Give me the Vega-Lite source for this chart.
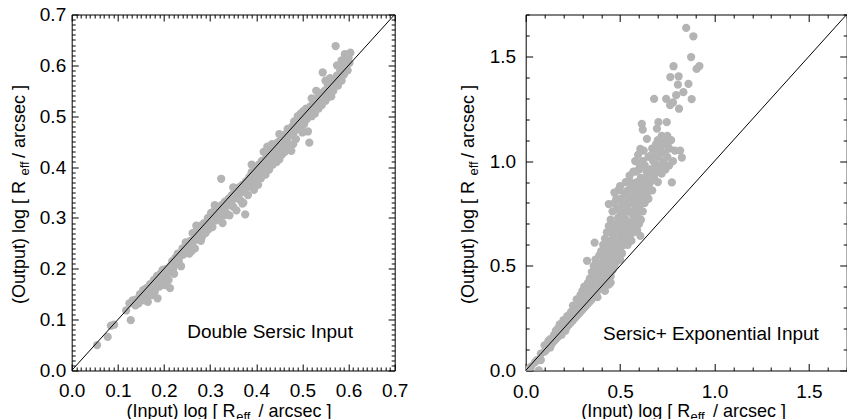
{
"$schema":"https://vega.github.io/schema/vega-lite/v6.json",
"padding":{"left":9.7,"top":4.5,"right":-1,"bottom":-4},
"spacing":50,
"config":{"view":{"stroke":"#000000","strokeWidth":1},"font":"Liberation Sans","axis":{"grid":false,"domain":false,"labelFlush":false,"labelFont":"Liberation Sans","titleFont":"Liberation Sans","labelColor":"#000000","titleColor":"#000000","tickColor":"#000000","titleFontWeight":"normal","tickWidth":1}},
"hconcat":[
{"width":323,"height":356,
"layer":[
{"data":{"values":[
{"x":0.055,"y":0.05},{"x":0.078,"y":0.066},{"x":0.085,"y":0.088},{"x":0.092,"y":0.09},{"x":0.118,"y":0.118},{"x":0.125,"y":0.132},{"x":0.128,"y":0.099},{"x":0.132,"y":0.138},{"x":0.138,"y":0.128},{"x":0.14,"y":0.14},{"x":0.145,"y":0.132},{"x":0.148,"y":0.15},{"x":0.152,"y":0.142},{"x":0.155,"y":0.158},{"x":0.158,"y":0.138},{"x":0.16,"y":0.148},{"x":0.162,"y":0.162},{"x":0.165,"y":0.135},{"x":0.168,"y":0.155},{"x":0.17,"y":0.17},{"x":0.172,"y":0.148},{"x":0.175,"y":0.165},{"x":0.178,"y":0.178},{"x":0.18,"y":0.155},{"x":0.182,"y":0.168},{"x":0.185,"y":0.186},{"x":0.186,"y":0.142},{"x":0.188,"y":0.175},{"x":0.19,"y":0.165},{"x":0.192,"y":0.19},{"x":0.195,"y":0.18},{"x":0.197,"y":0.198},{"x":0.2,"y":0.185},{"x":0.202,"y":0.168},{"x":0.205,"y":0.2},{"x":0.207,"y":0.19},{"x":0.21,"y":0.178},{"x":0.213,"y":0.162},{"x":0.214,"y":0.205},{"x":0.216,"y":0.196},{"x":0.218,"y":0.215},{"x":0.22,"y":0.2},{"x":0.222,"y":0.19},{"x":0.225,"y":0.222},{"x":0.228,"y":0.21},{"x":0.23,"y":0.23},{"x":0.232,"y":0.215},{"x":0.235,"y":0.225},{"x":0.237,"y":0.205},{"x":0.24,"y":0.24},{"x":0.242,"y":0.228},{"x":0.245,"y":0.238},{"x":0.247,"y":0.252},{"x":0.25,"y":0.235},{"x":0.252,"y":0.245},{"x":0.255,"y":0.23},{"x":0.257,"y":0.255},{"x":0.26,"y":0.248},{"x":0.262,"y":0.27},{"x":0.265,"y":0.255},{"x":0.267,"y":0.24},{"x":0.27,"y":0.265},{"x":0.272,"y":0.28},{"x":0.275,"y":0.258},{"x":0.277,"y":0.27},{"x":0.28,"y":0.285},{"x":0.282,"y":0.262},{"x":0.285,"y":0.278},{"x":0.287,"y":0.29},{"x":0.29,"y":0.27},{"x":0.292,"y":0.285},{"x":0.295,"y":0.3},{"x":0.297,"y":0.278},{"x":0.3,"y":0.292},{"x":0.302,"y":0.31},{"x":0.305,"y":0.282},{"x":0.307,"y":0.3},{"x":0.31,"y":0.315},{"x":0.312,"y":0.295},{"x":0.315,"y":0.305},{"x":0.317,"y":0.32},{"x":0.32,"y":0.3},{"x":0.322,"y":0.312},{"x":0.324,"y":0.377},{"x":0.325,"y":0.325},{"x":0.327,"y":0.29},{"x":0.33,"y":0.318},{"x":0.332,"y":0.332},{"x":0.335,"y":0.31},{"x":0.337,"y":0.325},{"x":0.34,"y":0.338},{"x":0.342,"y":0.305},{"x":0.345,"y":0.33},{"x":0.347,"y":0.345},{"x":0.35,"y":0.322},{"x":0.352,"y":0.338},{"x":0.355,"y":0.355},{"x":0.357,"y":0.315},{"x":0.36,"y":0.345},{"x":0.362,"y":0.36},{"x":0.365,"y":0.335},{"x":0.367,"y":0.35},{"x":0.37,"y":0.365},{"x":0.372,"y":0.33},{"x":0.375,"y":0.355},{"x":0.376,"y":0.307},{"x":0.378,"y":0.372},{"x":0.38,"y":0.36},{"x":0.382,"y":0.345},{"x":0.385,"y":0.38},{"x":0.387,"y":0.365},{"x":0.39,"y":0.39},{"x":0.392,"y":0.37},{"x":0.395,"y":0.355},{"x":0.397,"y":0.392},{"x":0.4,"y":0.38},{"x":0.402,"y":0.395},{"x":0.404,"y":0.365},{"x":0.406,"y":0.405},{"x":0.408,"y":0.39},{"x":0.41,"y":0.378},{"x":0.412,"y":0.412},{"x":0.414,"y":0.398},{"x":0.416,"y":0.43},{"x":0.418,"y":0.405},{"x":0.42,"y":0.385},{"x":0.422,"y":0.42},{"x":0.424,"y":0.44},{"x":0.426,"y":0.41},{"x":0.428,"y":0.395},{"x":0.43,"y":0.43},{"x":0.432,"y":0.418},{"x":0.434,"y":0.445},{"x":0.436,"y":0.405},{"x":0.438,"y":0.432},{"x":0.44,"y":0.42},{"x":0.442,"y":0.44},{"x":0.444,"y":0.41},{"x":0.446,"y":0.448},{"x":0.448,"y":0.43},{"x":0.45,"y":0.415},{"x":0.452,"y":0.452},{"x":0.454,"y":0.44},{"x":0.456,"y":0.425},{"x":0.458,"y":0.46},{"x":0.46,"y":0.445},{"x":0.462,"y":0.43},{"x":0.464,"y":0.465},{"x":0.466,"y":0.45},{"x":0.468,"y":0.475},{"x":0.47,"y":0.46},{"x":0.472,"y":0.44},{"x":0.474,"y":0.47},{"x":0.476,"y":0.432},{"x":0.478,"y":0.48},{"x":0.48,"y":0.465},{"x":0.482,"y":0.49},{"x":0.484,"y":0.472},{"x":0.486,"y":0.455},{"x":0.488,"y":0.485},{"x":0.49,"y":0.5},{"x":0.492,"y":0.475},{"x":0.494,"y":0.49},{"x":0.496,"y":0.505},{"x":0.498,"y":0.48},{"x":0.5,"y":0.495},{"x":0.502,"y":0.51},{"x":0.504,"y":0.485},{"x":0.506,"y":0.5},{"x":0.508,"y":0.515},{"x":0.51,"y":0.495},{"x":0.512,"y":0.47},{"x":0.515,"y":0.448},{"x":0.516,"y":0.505},{"x":0.518,"y":0.52},{"x":0.52,"y":0.5},{"x":0.522,"y":0.515},{"x":0.525,"y":0.53},{"x":0.527,"y":0.505},{"x":0.53,"y":0.52},{"x":0.532,"y":0.535},{"x":0.535,"y":0.515},{"x":0.537,"y":0.528},{"x":0.54,"y":0.545},{"x":0.542,"y":0.522},{"x":0.544,"y":0.586},{"x":0.545,"y":0.535},{"x":0.548,"y":0.55},{"x":0.55,"y":0.53},{"x":0.552,"y":0.545},{"x":0.555,"y":0.56},{"x":0.557,"y":0.538},{"x":0.56,"y":0.552},{"x":0.5625,"y":0.539},{"x":0.565,"y":0.57},{"x":0.567,"y":0.55},{"x":0.57,"y":0.565},{"x":0.572,"y":0.638},{"x":0.575,"y":0.58},{"x":0.577,"y":0.56},{"x":0.58,"y":0.575},{"x":0.582,"y":0.59},{"x":0.585,"y":0.57},{"x":0.587,"y":0.595},{"x":0.59,"y":0.582},{"x":0.592,"y":0.622},{"x":0.595,"y":0.6},{"x":0.598,"y":0.59},{"x":0.6,"y":0.615},{"x":0.602,"y":0.605},{"x":0.604,"y":0.625},{"x":0.585,"y":0.61},{"x":0.575,"y":0.6},{"x":0.55,"y":0.57},{"x":0.53,"y":0.55},{"x":0.5,"y":0.468},{"x":0.36,"y":0.34},{"x":0.37,"y":0.328},{"x":0.44,"y":0.425},{"x":0.46,"y":0.436},{"x":0.48,"y":0.445},{"x":0.42,"y":0.4},{"x":0.4,"y":0.372},{"x":0.33,"y":0.305},{"x":0.28,"y":0.255},{"x":0.26,"y":0.235},{"x":0.35,"y":0.36},{"x":0.45,"y":0.465},{"x":0.39,"y":0.405},{"x":0.31,"y":0.325},{"x":0.27,"y":0.285},{"x":0.52,"y":0.535},{"x":0.56,"y":0.575}
]},
"mark":{"type":"circle","size":68,"color":"#b4b4b4","opacity":1,"clip":true},
"encoding":{
"x":{"field":"x","type":"quantitative","scale":{"domain":[0,0.7],"nice":false,"zero":false},
"axis":{"orient":"bottom","values":[0,0.1,0.2,0.3,0.4,0.5,0.6,0.7],"format":".1f","ticks":false,"labelFontSize":19,"labelPadding":11,"title":"(Input) log [ R\u2002\u2002 / arcsec ]","titleFontSize":18,"titleAlign":"left","titleBaseline":"alphabetic","titleX":54.3,"titleY":46}},
"y":{"field":"y","type":"quantitative","scale":{"domain":[0,0.7],"nice":false,"zero":false},
"axis":{"orient":"left","values":[0,0.1,0.2,0.3,0.4,0.5,0.6,0.7],"format":".1f","ticks":false,"labelFontSize":19,"labelPadding":6,"title":"(Output) log [ R\u2002\u2002 / arcsec ]","titleFontSize":18,"titleAngle":270,"titleAlign":"left","titleBaseline":"alphabetic","titleX":-46.7,"titleY":289}}
}},
{"data":{"values":[{"x":0,"y":0},{"x":0.7,"y":0.7}]},
"mark":{"type":"line","color":"#000000","strokeWidth":1,"clip":true},
"encoding":{
"x":{"field":"x","type":"quantitative","scale":{"domain":[0,0.7],"nice":false,"zero":false},
"axis":{"orient":"bottom","values":[0,0.01,0.02,0.03,0.04,0.05,0.06,0.07,0.08,0.09,0.1,0.11,0.12,0.13,0.14,0.15,0.16,0.17,0.18,0.19,0.2,0.21,0.22,0.23,0.24,0.25,0.26,0.27,0.28,0.29,0.3,0.31,0.32,0.33,0.34,0.35,0.36,0.37,0.38,0.39,0.4,0.41,0.42,0.43,0.44,0.45,0.46,0.47,0.48,0.49,0.5,0.51,0.52,0.53,0.54,0.55,0.56,0.57,0.58,0.59,0.6,0.61,0.62,0.63,0.64,0.65,0.66,0.67,0.68,0.69,0.7],"labels":false,"tickSize":{"condition":{"test":"abs(datum.value*10-round(datum.value*10))<0.001","value":-6.5},"value":-3.5},"title":"eff","titleFontSize":13,"titleAlign":"left","titleBaseline":"alphabetic","titleX":164,"titleY":50}},
"y":{"field":"y","type":"quantitative","scale":{"domain":[0,0.7],"nice":false,"zero":false},
"axis":{"orient":"left","values":[0,0.01,0.02,0.03,0.04,0.05,0.06,0.07,0.08,0.09,0.1,0.11,0.12,0.13,0.14,0.15,0.16,0.17,0.18,0.19,0.2,0.21,0.22,0.23,0.24,0.25,0.26,0.27,0.28,0.29,0.3,0.31,0.32,0.33,0.34,0.35,0.36,0.37,0.38,0.39,0.4,0.41,0.42,0.43,0.44,0.45,0.46,0.47,0.48,0.49,0.5,0.51,0.52,0.53,0.54,0.55,0.56,0.57,0.58,0.59,0.6,0.61,0.62,0.63,0.64,0.65,0.66,0.67,0.68,0.69,0.7],"labels":false,"tickSize":{"condition":{"test":"abs(datum.value*10-round(datum.value*10))<0.001","value":-6.5},"value":-3.5},"title":"eff","titleFontSize":13,"titleAngle":270,"titleAlign":"left","titleBaseline":"alphabetic","titleX":-43.2,"titleY":160.5}}
}},
{"data":{"values":[{"x":0.43,"y":0.063,"label":"Double Sersic Input"}]},
"mark":{"type":"text","fontSize":19,"font":"Liberation Sans","align":"center","baseline":"alphabetic","color":"#000000"},
"encoding":{
"x":{"field":"x","type":"quantitative","scale":{"domain":[0,0.7],"nice":false,"zero":false},
"axis":{"orient":"top","values":[0,0.01,0.02,0.03,0.04,0.05,0.06,0.07,0.08,0.09,0.1,0.11,0.12,0.13,0.14,0.15,0.16,0.17,0.18,0.19,0.2,0.21,0.22,0.23,0.24,0.25,0.26,0.27,0.28,0.29,0.3,0.31,0.32,0.33,0.34,0.35,0.36,0.37,0.38,0.39,0.4,0.41,0.42,0.43,0.44,0.45,0.46,0.47,0.48,0.49,0.5,0.51,0.52,0.53,0.54,0.55,0.56,0.57,0.58,0.59,0.6,0.61,0.62,0.63,0.64,0.65,0.66,0.67,0.68,0.69,0.7],"labels":false,"title":null,"tickSize":{"condition":{"test":"abs(datum.value*10-round(datum.value*10))<0.001","value":-6.5},"value":-3.5}}},
"y":{"field":"y","type":"quantitative","scale":{"domain":[0,0.7],"nice":false,"zero":false},
"axis":{"orient":"right","values":[0,0.01,0.02,0.03,0.04,0.05,0.06,0.07,0.08,0.09,0.1,0.11,0.12,0.13,0.14,0.15,0.16,0.17,0.18,0.19,0.2,0.21,0.22,0.23,0.24,0.25,0.26,0.27,0.28,0.29,0.3,0.31,0.32,0.33,0.34,0.35,0.36,0.37,0.38,0.39,0.4,0.41,0.42,0.43,0.44,0.45,0.46,0.47,0.48,0.49,0.5,0.51,0.52,0.53,0.54,0.55,0.56,0.57,0.58,0.59,0.6,0.61,0.62,0.63,0.64,0.65,0.66,0.67,0.68,0.69,0.7],"labels":false,"title":null,"tickSize":{"condition":{"test":"abs(datum.value*10-round(datum.value*10))<0.001","value":-6.5},"value":-3.5}}},
"text":{"field":"label","type":"nominal"}
}}
],
"resolve":{"axis":{"x":"independent","y":"independent"}}
},
{"width":321,"height":356,
"layer":[
{"data":{"values":[
{"x":0.01,"y":0.0},{"x":0.02,"y":0.01},{"x":0.03,"y":0.02},{"x":0.05,"y":0.04},{"x":0.07,"y":0.0},{"x":0.06,"y":0.05},{"x":0.08,"y":0.05},{"x":0.08,"y":0.08},{"x":0.1,"y":0.09},{"x":0.1,"y":0.12},{"x":0.11,"y":0.1},{"x":0.12,"y":0.14},{"x":0.13,"y":0.15},{"x":0.13,"y":0.11},{"x":0.14,"y":0.13},{"x":0.15,"y":0.17},{"x":0.15,"y":0.14},{"x":0.16,"y":0.15},{"x":0.16,"y":0.19},{"x":0.17,"y":0.16},{"x":0.17,"y":0.2},{"x":0.18,"y":0.18},{"x":0.18,"y":0.22},{"x":0.19,"y":0.17},{"x":0.19,"y":0.21},{"x":0.2,"y":0.2},{"x":0.2,"y":0.24},{"x":0.21,"y":0.19},{"x":0.21,"y":0.23},{"x":0.22,"y":0.21},{"x":0.22,"y":0.26},{"x":0.23,"y":0.22},{"x":0.23,"y":0.25},{"x":0.24,"y":0.23},{"x":0.24,"y":0.28},{"x":0.25,"y":0.24},{"x":0.25,"y":0.27},{"x":0.25,"y":0.31},{"x":0.26,"y":0.25},{"x":0.26,"y":0.29},{"x":0.27,"y":0.26},{"x":0.27,"y":0.3},{"x":0.27,"y":0.34},{"x":0.28,"y":0.27},{"x":0.28,"y":0.32},{"x":0.29,"y":0.28},{"x":0.29,"y":0.31},{"x":0.29,"y":0.36},{"x":0.3,"y":0.29},{"x":0.3,"y":0.33},{"x":0.3,"y":0.38},{"x":0.31,"y":0.3},{"x":0.31,"y":0.35},{"x":0.31,"y":0.4},{"x":0.32,"y":0.31},{"x":0.32,"y":0.34},{"x":0.32,"y":0.38},{"x":0.33,"y":0.32},{"x":0.33,"y":0.36},{"x":0.33,"y":0.42},{"x":0.34,"y":0.33},{"x":0.34,"y":0.38},{"x":0.34,"y":0.44},{"x":0.325,"y":0.524},{"x":0.35,"y":0.34},{"x":0.35,"y":0.37},{"x":0.35,"y":0.41},{"x":0.35,"y":0.47},{"x":0.36,"y":0.35},{"x":0.36,"y":0.39},{"x":0.36,"y":0.43},{"x":0.36,"y":0.5},{"x":0.365,"y":0.611},{"x":0.37,"y":0.37},{"x":0.37,"y":0.41},{"x":0.37,"y":0.45},{"x":0.37,"y":0.53},{"x":0.38,"y":0.38},{"x":0.38,"y":0.42},{"x":0.38,"y":0.47},{"x":0.38,"y":0.51},{"x":0.38,"y":0.35},{"x":0.39,"y":0.39},{"x":0.39,"y":0.44},{"x":0.39,"y":0.49},{"x":0.39,"y":0.55},{"x":0.4,"y":0.4},{"x":0.4,"y":0.45},{"x":0.4,"y":0.5},{"x":0.4,"y":0.57},{"x":0.41,"y":0.41},{"x":0.41,"y":0.47},{"x":0.41,"y":0.52},{"x":0.41,"y":0.6},{"x":0.42,"y":0.43},{"x":0.42,"y":0.49},{"x":0.42,"y":0.55},{"x":0.42,"y":0.63},{"x":0.42,"y":0.38},{"x":0.43,"y":0.44},{"x":0.43,"y":0.5},{"x":0.43,"y":0.57},{"x":0.43,"y":0.66},{"x":0.44,"y":0.795},{"x":0.44,"y":0.46},{"x":0.44,"y":0.52},{"x":0.44,"y":0.6},{"x":0.44,"y":0.69},{"x":0.44,"y":0.41},{"x":0.45,"y":0.45},{"x":0.45,"y":0.54},{"x":0.45,"y":0.62},{"x":0.45,"y":0.72},{"x":0.45,"y":0.42},{"x":0.46,"y":0.48},{"x":0.46,"y":0.56},{"x":0.46,"y":0.65},{"x":0.46,"y":0.76},{"x":0.47,"y":0.85},{"x":0.47,"y":0.5},{"x":0.47,"y":0.58},{"x":0.47,"y":0.67},{"x":0.47,"y":0.8},{"x":0.48,"y":0.52},{"x":0.48,"y":0.6},{"x":0.48,"y":0.7},{"x":0.48,"y":0.82},{"x":0.49,"y":0.55},{"x":0.49,"y":0.63},{"x":0.49,"y":0.73},{"x":0.49,"y":0.86},{"x":0.5,"y":0.53},{"x":0.5,"y":0.58},{"x":0.5,"y":0.66},{"x":0.5,"y":0.76},{"x":0.5,"y":0.88},{"x":0.51,"y":0.56},{"x":0.51,"y":0.62},{"x":0.51,"y":0.7},{"x":0.51,"y":0.79},{"x":0.52,"y":0.6},{"x":0.52,"y":0.68},{"x":0.52,"y":0.75},{"x":0.52,"y":0.85},{"x":0.53,"y":0.62},{"x":0.53,"y":0.72},{"x":0.53,"y":0.8},{"x":0.53,"y":0.9},{"x":0.54,"y":0.6},{"x":0.54,"y":0.66},{"x":0.54,"y":0.77},{"x":0.54,"y":0.86},{"x":0.55,"y":0.64},{"x":0.55,"y":0.7},{"x":0.55,"y":0.82},{"x":0.55,"y":0.93},{"x":0.56,"y":0.62},{"x":0.56,"y":0.68},{"x":0.56,"y":0.75},{"x":0.56,"y":0.88},{"x":0.57,"y":0.66},{"x":0.57,"y":0.72},{"x":0.57,"y":0.8},{"x":0.57,"y":0.95},{"x":0.58,"y":0.7},{"x":0.58,"y":0.77},{"x":0.58,"y":0.85},{"x":0.58,"y":1.0},{"x":0.59,"y":0.67},{"x":0.59,"y":0.74},{"x":0.59,"y":0.82},{"x":0.59,"y":0.9},{"x":0.6,"y":0.7},{"x":0.6,"y":0.78},{"x":0.6,"y":0.87},{"x":0.6,"y":0.96},{"x":0.607,"y":0.643},{"x":0.607,"y":1.058},{"x":0.61,"y":0.72},{"x":0.61,"y":0.82},{"x":0.61,"y":0.92},{"x":0.615,"y":1.178},{"x":0.62,"y":0.76},{"x":0.62,"y":0.86},{"x":0.62,"y":1.0},{"x":0.62,"y":1.15},{"x":0.63,"y":0.8},{"x":0.63,"y":0.9},{"x":0.63,"y":0.98},{"x":0.64,"y":0.84},{"x":0.64,"y":0.95},{"x":0.642,"y":1.106},{"x":0.65,"y":0.82},{"x":0.65,"y":0.88},{"x":0.65,"y":1.02},{"x":0.66,"y":0.9},{"x":0.66,"y":1.025},{"x":0.67,"y":0.86},{"x":0.67,"y":0.96},{"x":0.67,"y":1.06},{"x":0.68,"y":0.92},{"x":0.68,"y":1.0},{"x":0.68,"y":1.297},{"x":0.69,"y":0.95},{"x":0.69,"y":1.08},{"x":0.695,"y":1.155},{"x":0.7,"y":0.9},{"x":0.7,"y":1.02},{"x":0.7,"y":1.1},{"x":0.703,"y":1.186},{"x":0.71,"y":0.98},{"x":0.71,"y":1.06},{"x":0.72,"y":0.94},{"x":0.72,"y":1.04},{"x":0.72,"y":1.12},{"x":0.73,"y":1.0},{"x":0.73,"y":1.106},{"x":0.74,"y":0.96},{"x":0.74,"y":1.08},{"x":0.744,"y":1.297},{"x":0.747,"y":1.186},{"x":0.75,"y":1.02},{"x":0.75,"y":1.12},{"x":0.76,"y":0.98},{"x":0.76,"y":1.06},{"x":0.765,"y":1.267},{"x":0.766,"y":1.401},{"x":0.77,"y":1.1},{"x":0.774,"y":0.898},{"x":0.78,"y":1.0},{"x":0.78,"y":1.28},{"x":0.783,"y":1.453},{"x":0.79,"y":1.05},{"x":0.797,"y":1.315},{"x":0.806,"y":1.365},{"x":0.81,"y":1.405},{"x":0.812,"y":1.25},{"x":0.818,"y":1.05},{"x":0.827,"y":1.017},{"x":0.835,"y":1.329},{"x":0.85,"y":1.636},{"x":0.862,"y":1.369},{"x":0.876,"y":1.497},{"x":0.879,"y":1.296},{"x":0.888,"y":1.596},{"x":0.905,"y":1.44},{"x":0.92,"y":1.454},
{"x":0.355,"y":0.395},{"x":0.375,"y":0.43},{"x":0.395,"y":0.47},{"x":0.415,"y":0.5},{"x":0.435,"y":0.535},{"x":0.455,"y":0.58},{"x":0.475,"y":0.63},{"x":0.495,"y":0.69},{"x":0.515,"y":0.73},{"x":0.535,"y":0.76},{"x":0.555,"y":0.8},{"x":0.575,"y":0.84},{"x":0.595,"y":0.85},{"x":0.615,"y":0.88},{"x":0.635,"y":0.92},{"x":0.655,"y":0.96},{"x":0.675,"y":1.0},{"x":0.695,"y":1.04},{"x":0.715,"y":1.08},{"x":0.735,"y":1.04},{"x":0.755,"y":1.09},{"x":0.345,"y":0.36},{"x":0.365,"y":0.4},{"x":0.385,"y":0.45},{"x":0.405,"y":0.48},{"x":0.425,"y":0.47},{"x":0.445,"y":0.49},{"x":0.465,"y":0.53},{"x":0.485,"y":0.57},{"x":0.505,"y":0.61},{"x":0.525,"y":0.65},{"x":0.545,"y":0.7},{"x":0.565,"y":0.7},{"x":0.585,"y":0.74},{"x":0.605,"y":0.8},{"x":0.625,"y":0.83},{"x":0.645,"y":0.87},{"x":0.665,"y":0.94},{"x":0.685,"y":0.97},{"x":0.705,"y":0.95},{"x":0.725,"y":0.99},{"x":0.555,"y":0.9},{"x":0.585,"y":0.95},{"x":0.625,"y":1.05},{"x":0.595,"y":1.03},{"x":0.605,"y":0.98},{"x":0.565,"y":0.87},{"x":0.535,"y":0.84},{"x":0.505,"y":0.82},{"x":0.485,"y":0.77},{"x":0.455,"y":0.68},{"x":0.425,"y":0.6},{"x":0.405,"y":0.55},{"x":0.385,"y":0.5},{"x":0.335,"y":0.4},{"x":0.315,"y":0.36},{"x":0.295,"y":0.33},{"x":0.275,"y":0.29},{"x":0.255,"y":0.27},{"x":0.235,"y":0.24},{"x":0.215,"y":0.21}
]},
"mark":{"type":"circle","size":68,"color":"#b4b4b4","opacity":1,"clip":true},
"encoding":{
"x":{"field":"x","type":"quantitative","scale":{"domain":[0,1.7],"nice":false,"zero":false},
"axis":{"orient":"bottom","values":[0,0.5,1,1.5],"format":".1f","ticks":false,"labelFontSize":19,"labelPadding":12,"title":"(Input) log [ R\u2002\u2002 / arcsec ]","titleFontSize":18,"titleAlign":"left","titleBaseline":"alphabetic","titleX":55,"titleY":46}},
"y":{"field":"y","type":"quantitative","scale":{"domain":[0,1.7],"nice":false,"zero":false},
"axis":{"orient":"left","values":[0,0.5,1,1.5],"format":".1f","ticks":false,"labelFontSize":19,"labelPadding":10,"title":"(Output) log [ R\u2002\u2002 / arcsec ]","titleFontSize":18,"titleAngle":270,"titleAlign":"left","titleBaseline":"alphabetic","titleX":-51.7,"titleY":289}}
}},
{"data":{"values":[{"x":0,"y":0},{"x":1.7,"y":1.7}]},
"mark":{"type":"line","color":"#000000","strokeWidth":1,"clip":true},
"encoding":{
"x":{"field":"x","type":"quantitative","scale":{"domain":[0,1.7],"nice":false,"zero":false},
"axis":{"orient":"bottom","values":[0,0.1,0.2,0.3,0.4,0.5,0.6,0.7,0.8,0.9,1,1.1,1.2,1.3,1.4,1.5,1.6,1.7],"labels":false,"tickSize":{"condition":{"test":"abs(datum.value*2-round(datum.value*2))<0.001","value":-7},"value":-3.5},"title":"eff","titleFontSize":13,"titleAlign":"left","titleBaseline":"alphabetic","titleX":164.3,"titleY":50}},
"y":{"field":"y","type":"quantitative","scale":{"domain":[0,1.7],"nice":false,"zero":false},
"axis":{"orient":"left","values":[0,0.1,0.2,0.3,0.4,0.5,0.6,0.7,0.8,0.9,1,1.1,1.2,1.3,1.4,1.5,1.6,1.7],"labels":false,"tickSize":{"condition":{"test":"abs(datum.value*2-round(datum.value*2))<0.001","value":-7},"value":-3.5},"title":"eff","titleFontSize":13,"titleAngle":270,"titleAlign":"left","titleBaseline":"alphabetic","titleX":-48.2,"titleY":160.5}}
}},
{"data":{"values":[{"x":0.981,"y":0.147,"label":"Sersic+ Exponential Input"}]},
"mark":{"type":"text","fontSize":19,"font":"Liberation Sans","align":"center","baseline":"alphabetic","color":"#000000"},
"encoding":{
"x":{"field":"x","type":"quantitative","scale":{"domain":[0,1.7],"nice":false,"zero":false},
"axis":{"orient":"top","values":[0,0.1,0.2,0.3,0.4,0.5,0.6,0.7,0.8,0.9,1,1.1,1.2,1.3,1.4,1.5,1.6,1.7],"labels":false,"title":null,"tickSize":{"condition":{"test":"abs(datum.value*2-round(datum.value*2))<0.001","value":-7},"value":-3.5}}},
"y":{"field":"y","type":"quantitative","scale":{"domain":[0,1.7],"nice":false,"zero":false},
"axis":{"orient":"right","values":[0,0.1,0.2,0.3,0.4,0.5,0.6,0.7,0.8,0.9,1,1.1,1.2,1.3,1.4,1.5,1.6,1.7],"labels":false,"title":null,"tickSize":{"condition":{"test":"abs(datum.value*2-round(datum.value*2))<0.001","value":-7},"value":-3.5}}},
"text":{"field":"label","type":"nominal"}
}}
],
"resolve":{"axis":{"x":"independent","y":"independent"}}
}
]
}
